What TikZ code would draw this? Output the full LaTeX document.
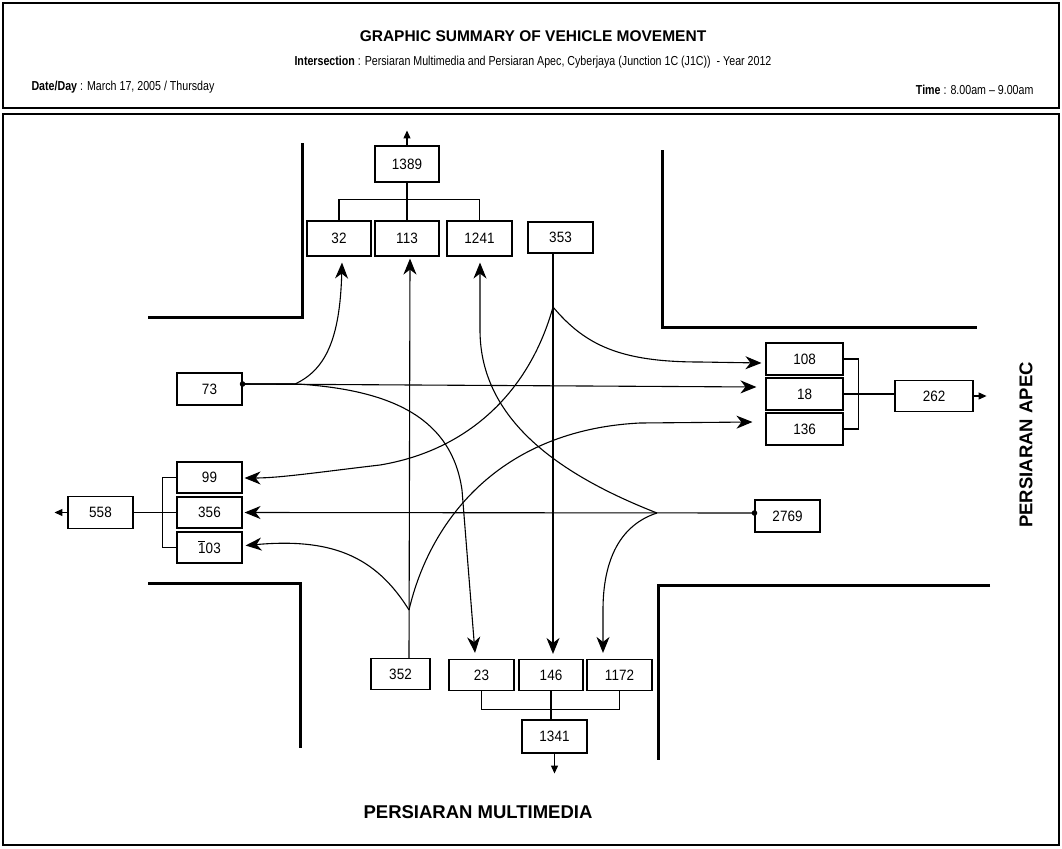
\documentclass[tikz,border=0pt]{standalone}
\usepackage{fontspec}
\setmainfont{Liberation Sans}
\newfontfamily\narrowfont[FakeStretch=0.82]{Liberation Sans}
\newfontfamily\numfont[FakeStretch=0.9]{Liberation Sans}
\usetikzlibrary{arrows.meta,calc}

\begin{document}
\begin{tikzpicture}[x=1pt,y=-1pt,
  num/.style={draw,line width=1.1pt,inner sep=0pt,font=\numfont\fontsize{15}{15}\selectfont},
  flow/.style={line width=1.1pt},
  bigarr/.style={-{Stealth[length=16pt,width=13pt,inset=5pt]}},
  smallarr/.style={-{Triangle[length=8pt,width=7pt]}},
  road/.style={line width=3pt},
  frame/.style={line width=1.8pt},
  hdr/.style={font=\narrowfont\fontsize{13}{13}\selectfont}
]
\useasboundingbox (0,0) rectangle (1062,848);

% frames
\draw[frame] (3,3) rectangle (1059,108);
\draw[frame] (3,114) rectangle (1059,845);

% header
\node[font=\bfseries\fontsize{15.5}{15.5}\selectfont] (title) at (533,36) {GRAPHIC SUMMARY OF VEHICLE MOVEMENT};
\node[hdr] (isect) at (533,62) {\textbf{Intersection} : Persiaran Multimedia and Persiaran Apec, Cyberjaya (Junction 1C (J1C))\ \ - Year 2012};
\node[hdr,anchor=west] (date) at (28,87) {\textbf{Date/Day} : March 17, 2005 / Thursday};
\node[hdr,anchor=east] (time) at (1037,90) {\textbf{Time} : 8.00am – 9.00am};

% road kerbs
\draw[road] (302,143) -- (302,317) -- (148,317);
\draw[road] (662,150) -- (662,327) -- (977,327);
\draw[road] (148,583) -- (300,583) -- (300,748);
\draw[road] (990,585) -- (658,585) -- (658,760);

% road names
\node[font=\bfseries\fontsize{18.5}{18.5}\selectfont] (mm) at (478,812) {PERSIARAN MULTIMEDIA};
\node[font=\bfseries\fontsize{18.5}{18.5}\selectfont,rotate=90] (apec) at (1026,445) {PERSIARAN APEC};

% north arm
\node[num,minimum width=64pt,minimum height=36pt] (n1389) at (407,164) {1389};
\node[num,minimum width=64pt,minimum height=35pt] (n32) at (339,238.5) {32};
\node[num,minimum width=64pt,minimum height=35pt] (n113) at (407,238.5) {113};
\node[num,minimum width=65pt,minimum height=35pt] (n1241) at (479.5,238.5) {1241};
\node[num,minimum width=65pt,minimum height=31pt] (n353) at (560.5,237.5) {353};

% west arm
\node[num,minimum width=65pt,minimum height=32pt] (n73) at (209.5,389) {73};
\node[num,minimum width=65pt,minimum height=31pt] (n99) at (209.5,477.5) {99};
\node[num,minimum width=65pt,minimum height=31pt] (n356) at (209.5,512.5) {356};
\node[num,minimum width=65pt,minimum height=31pt] (n103) at (209.5,547.5) {\makebox[0pt][l]{\rule[0.8em]{0.42em}{1pt}}103};
\node[num,minimum width=65pt,minimum height=32pt] (n558) at (100.5,512.5) {558};

% east arm
\node[num,minimum width=77pt,minimum height=32pt] (n108) at (804.5,359) {108};
\node[num,minimum width=77pt,minimum height=32pt] (n18) at (804.5,394) {18};
\node[num,minimum width=77pt,minimum height=32pt] (n136) at (804.5,429) {136};
\node[num,minimum width=78pt,minimum height=31pt] (n262) at (934,396) {262};
\node[num,minimum width=65pt,minimum height=32pt] (n2769) at (787.5,516) {2769};

% south arm
\node[num,minimum width=59pt,minimum height=31pt] (n352) at (400.5,674) {352};
\node[num,minimum width=65pt,minimum height=31pt] (n23) at (481.5,675) {23};
\node[num,minimum width=64pt,minimum height=31pt] (n146) at (551,675) {146};
\node[num,minimum width=65pt,minimum height=31pt] (n1172) at (619.5,675) {1172};
\node[num,minimum width=65pt,minimum height=33pt] (n1341) at (554.5,736.5) {1341};

% entry points and turning points
\coordinate (d73) at ($(n73.east)+(0,-5)$);
\coordinate (d2769) at ($(n2769.west)+(0,-3)$);
\coordinate (s353) at ($(n353.south)+(-7.5,0)$);
\coordinate (s352) at ($(n352.north)+(8.5,0)$);
\coordinate (pN) at (553,307);
\coordinate (pS) at (409,610);
\coordinate (pE) at (657,513);

% collecting brackets and exit totals
\draw[flow] (n32.north) -- ++(0,-21) -| (n1241.north);
\draw[flow] (n113.north) -- (n1389.south);
\draw[flow,smallarr] (n1389.north) -- ++(0,-15);

\draw[flow] (n108.east) -- ++(15,0) |- (n136.east);
\draw[flow] (n18.east) -- (n18.east -| n262.west);
\draw[flow,smallarr] (n262.east) -- ++(13,0);

\draw[flow] (n99.west) -- ++(-14,0) |- (n103.west);
\draw[flow] (n558.east) -- (n356.west);
\draw[flow,smallarr] (n558.west) -- ++(-13,0);

\draw[flow] (n23.south) -- ++(0,18) -| (n1172.south);
\draw[flow] (n146.south) -- (n146.south |- n1341.north);
\draw[flow,smallarr] (n1341.south) -- ++(0,20);

% eastbound from 73
\draw[flow,bigarr] (d73) -- ($(n18.west)+(-9,-7)$);
\draw[flow,bigarr] (d73) -- (295,384) .. controls (325,370) and (340,340) .. ($(n32.south)+(3,6)$);
\draw[flow,bigarr] (d73) -- (297,384) .. controls (395,390) and (452,420) .. (462,490) -- ($(n23.north)+(-6.5,-6)$);

% southbound from 353
\draw[flow,bigarr] (s353) -- ($(n146.north)+(2,-5)$);
\draw[flow,bigarr] (pN) .. controls (585,345) and (620,362) .. (700,362) -- ($(n108.west)+(-4,4)$);
\draw[flow,bigarr] (pN) .. controls (530,390) and (470,450) .. (380,465) .. controls (320,472) and (280,478) .. ($(n99.east)+(2,0.5)$);

% northbound from 352
\draw[flow,bigarr] (s352) -- ($(n113.south)+(3,2)$);
\draw[flow,bigarr] (pS) .. controls (375,555) and (330,538) .. ($(n103.east)+(3,-2)$);
\draw[flow,bigarr] (pS) .. controls (430,520) and (500,430) .. (640,423) -- ($(n136.west)+(-13,-7)$);

% westbound from 2769
\draw[flow,bigarr] (d2769) -- ($(n356.east)+(2,0)$);
\draw[flow,bigarr] (pE) .. controls (560,475) and (480,420) .. (480,330) -- ($(n1241.south)+(0.5,6)$);
\draw[flow,bigarr] (pE) .. controls (620,525) and (603,560) .. (603,610) -- ($(n1172.north)+(-16.5,-6)$);

% entry dots
\fill (d73) circle[radius=2.8];
\fill (d2769) circle[radius=2.8];
\end{tikzpicture}
\end{document}
